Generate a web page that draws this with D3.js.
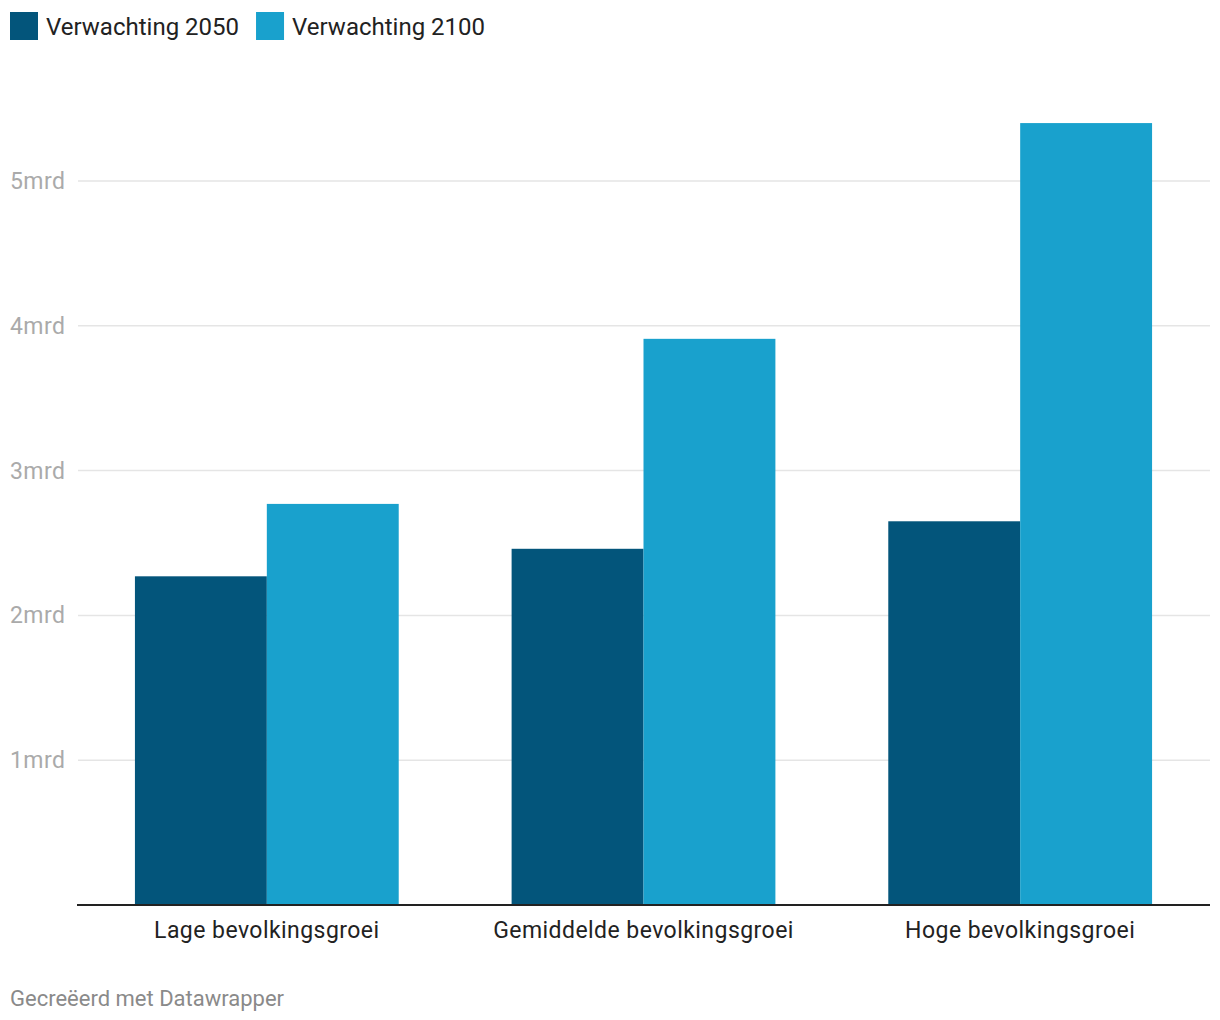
<!DOCTYPE html>
<html><head><meta charset="utf-8">
<script src="https://cdn.jsdelivr.net/npm/d3@7"></script>
<style>body{margin:0;background:#fff;font-family:Roboto,sans-serif}</style>
</head><body><svg id="c" width="1220" height="1020"></svg>
<script>
const categories = ["Lage bevolkingsgroei", "Gemiddelde bevolkingsgroei", "Hoge bevolkingsgroei"];
const seriesNames = ["Verwachting 2050", "Verwachting 2100"];
const values2050 = [2.27, 2.46, 2.65];
const values2100 = [2.77, 3.91, 5.40];
const tickValues = [1, 2, 3, 4, 5];
const tickLabels = ["1mrd", "2mrd", "3mrd", "4mrd", "5mrd"];
const colors = ["#03557b", "#19a1cd"];

const svg = d3.select("#c");
const mLeft = 77, mRight = 1210, mBottom = 905;
const y = d3.scaleLinear().domain([0, 5.9]).range([mBottom, mBottom - 5.9 * 144.8]);
const x0 = d3.scaleBand().domain(categories).range([mLeft, mRight]).paddingInner(0.2997).paddingOuter(0.1538);
const x1 = d3.scaleBand().domain(seriesNames).range([0, x0.bandwidth()]);

// grid
const grid = svg.append("g");
tickValues.forEach((t, i) => {
  grid.append("line").attr("x1", 78).attr("x2", mRight).attr("y1", y(t)).attr("y2", y(t))
    .attr("stroke", "#e5e5e5").attr("stroke-width", 1.5);
  grid.append("text").attr("x", 10).attr("y", y(t) + 8).text(tickLabels[i])
    .attr("font-size", 23).attr("letter-spacing", "0.4px").attr("fill", "#aaaaaa");
});

const data = categories.map((c, i) => ({c, v: [values2050[i], values2100[i]]}));
const g = svg.append("g");
data.forEach(d => {
  d.v.forEach((v, j) => {
    g.append("rect").attr("x", x0(d.c) + x1(seriesNames[j])).attr("width", x1.bandwidth())
      .attr("y", y(v)).attr("height", y(0) - y(v)).attr("fill", colors[j]);
  });
  svg.append("text").attr("x", x0(d.c) + x0.bandwidth() / 2).attr("y", 938).attr("text-anchor", "middle")
    .attr("font-size", 23).attr("letter-spacing", "0.45px").attr("fill", "#222").text(d.c);
});
svg.append("line").attr("x1", mLeft).attr("x2", mRight).attr("y1", mBottom).attr("y2", mBottom)
  .attr("stroke", "#222").attr("stroke-width", 2);

// legend
let lx = 10;
seriesNames.forEach((s, j) => {
  svg.append("rect").attr("x", lx).attr("y", 12).attr("width", 28).attr("height", 28).attr("fill", colors[j]);
  const t = svg.append("text").attr("x", lx + 36).attr("y", 35).attr("font-size", 24).attr("fill", "#222").text(s);
  lx += 36 + t.node().getComputedTextLength() + 17;
});

svg.append("text").attr("x", 10).attr("y", 1006).attr("font-size", 22).attr("fill", "#8a8a8a").text("Gecreëerd met Datawrapper");
</script></body></html>
